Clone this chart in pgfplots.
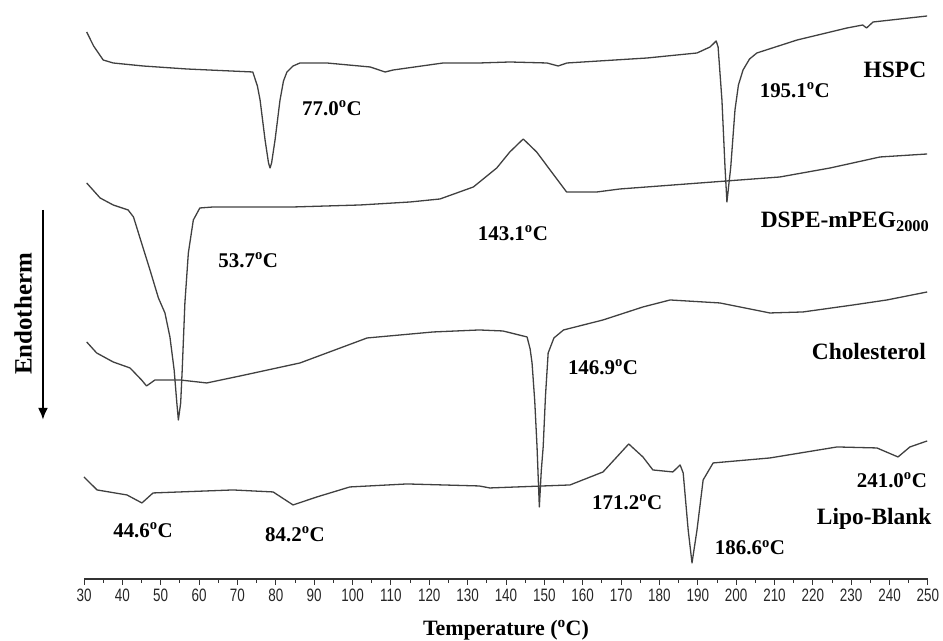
\documentclass[border=0pt]{standalone}
\usepackage{fontspec}
\setmainfont{Liberation Serif}
\newfontfamily\arialfont{Liberation Sans}
\usepackage{pgfplots}
\pgfplotsset{compat=1.18}
\usetikzlibrary{arrows.meta}
\tikzset{dsc/.style={black!75, line width=1.3bp, line join=round, mark=none}}
\begin{document}
\begin{tikzpicture}
\begin{axis}[
  scale only axis,
  width=844bp, height=579bp,
  xmin=30, xmax=250, ymin=62, ymax=641,
  clip=false,
  axis x line*=bottom,
  axis y line=none,
  xtick distance=10,
  minor x tick num=1,
  tick align=outside,
  major tick length=6bp,
  minor tick length=4bp,
  x axis line style={line width=1.2bp, black!80},
  every tick/.style={black!80, line width=0.9bp},
  /pgf/number format/assume math mode=true,
  xticklabel={\scalebox{0.75}[1]{\pgfmathprintnumber{\tick}}},
  xticklabel style={font=\arialfont\fontsize{18}{18}\selectfont, black!85, inner sep=1bp, yshift=-3bp},
  xlabel={Temperature (\textsuperscript{o}C)},
  xlabel style={font=\bfseries\fontsize{22}{22}\selectfont, at={(axis description cs:0.5,0)}, anchor=center, yshift=-51bp},
]
% HSPC
\addplot[dsc] coordinates {
(30.7,609) (32.5,595) (35,581) (37.6,578) (45.4,575) (56.8,572) (74,569)
(75.2,555) (75.9,541) (77.2,501) (78.1,478) (78.5,473) (78.9,478) (79.8,501) (81.1,541)
(82,560) (82.9,569) (84.5,575) (86.3,578)
(93.3,578) (104.6,574) (108.5,569) (110.6,571) (123.6,578) (133,578) (141,579)
(150.7,578) (153.6,575) (155.9,578) (176.8,583) (189.8,588) (193.2,594) (194.8,600)
(195.3,594) (196.3,541) (197.1,474) (197.6,439) (198.6,474) (199.7,531) (200.6,556) (201.8,571)
(203.5,582) (205.4,588) (215.9,601) (228.9,613) (233,616) (234,613) (235.7,619) (249.8,625)
};
% DSPE-mPEG2000
\addplot[dsc] coordinates {
(30.7,458) (34.2,443) (37.6,436) (41.5,431) (42.9,424) (45,398) (47.2,371)
(49.4,343) (51.1,328) (52.4,304) (53.5,271) (54.2,238) (54.6,221) (55.2,238)
(55.6,271) (56.3,338) (57.2,388) (58.5,421) (60.2,433) (63.7,434) (70.7,434)
(84.5,434) (102,436) (115,439) (122.8,442) (131.5,454) (137.6,473) (141,489)
(144.5,502) (148,489) (151.5,471) (155.4,451) (155.8,449) (163.7,449) (169.7,452)
(194,459) (211.4,464) (224.5,473) (237.5,484) (249.8,487)
};
% Cholesterol
\addplot[dsc] coordinates {
(30.7,299) (33.3,288) (37.6,279) (42,273) (45,261) (46.3,255) (48.5,261)
(55,261) (62,258) (70.7,265) (86.3,278)
(103.8,303) (121,309) (133,311) (139.2,310) (145.5,304) (146.3,292) (146.8,278) (147.5,240) (148.1,194)
(148.7,134) (149.2,170) (149.7,194) (150.3,245) (151,288) (152.5,303) (155,311) (165.3,321) (175.7,334) (182.8,341)
(195.8,338) (208.8,328) (217.4,329) (230.5,336) (239.3,341) (249.8,349)
};
% Lipo-Blank
\addplot[dsc] coordinates {
(30,164) (33.4,151) (41.2,146) (45.1,138) (48,148) (68.8,151) (79.3,149)
(84.5,136) (90.7,144) (99.3,154) (114.2,157) (133,155) (135.8,153) (156.7,156)
(165.3,169) (168.9,184) (172,197) (175.7,184) (178.3,171) (183.5,169) (185.4,176) (186.2,168) (187.5,111)
(188.5,78) (189.8,111) (191.4,161) (194,178) (208.8,183) (226.3,194) (236.7,193)
(242.2,184) (245.3,194) (249.8,200)
};
\begin{scope}[every node/.style={font=\bfseries\fontsize{21}{21}\selectfont, inner sep=0pt}]
\node at (axis cs:94.65,533) {77.0\textsuperscript{o}C};
\node at (axis cs:215.3,551) {195.1\textsuperscript{o}C};
\node at (axis cs:141.8,408) {143.1\textsuperscript{o}C};
\node at (axis cs:72.8,381) {53.7\textsuperscript{o}C};
\node at (axis cs:165.3,274) {146.9\textsuperscript{o}C};
\node at (axis cs:45.4,111) {44.6\textsuperscript{o}C};
\node at (axis cs:85,107) {84.2\textsuperscript{o}C};
\node at (axis cs:171.6,139) {171.2\textsuperscript{o}C};
\node at (axis cs:240.6,161) {241.0\textsuperscript{o}C};
\node at (axis cs:203.6,93) {186.6\textsuperscript{o}C};
\end{scope}
\begin{scope}[every node/.style={font=\bfseries\fontsize{23.5}{23.5}\selectfont, inner sep=0pt}]
\node at (axis cs:241.4,571) {HSPC};
\node at (axis cs:228.4,419) {DSPE-mPEG\textsubscript{2000}};
\node at (axis cs:234.6,289) {Cholesterol};
\node at (axis cs:236.0,122) {Lipo-Blank};
\node[rotate=90] at (axis cs:14.1,327) {\fontsize{25}{25}\selectfont Endotherm};
\end{scope}
\draw[-{Latex[length=12bp,width=10bp]}, line width=2.6bp, black] (axis cs:19.3,431) -- (axis cs:19.3,221);
\coordinate (BL) at (axis cs:8.1,0);
\coordinate (TR) at (axis cs:253.93,641);
\end{axis}
\pgfresetboundingbox
\path[use as bounding box] (BL) rectangle (TR);
\end{tikzpicture}
\end{document}
